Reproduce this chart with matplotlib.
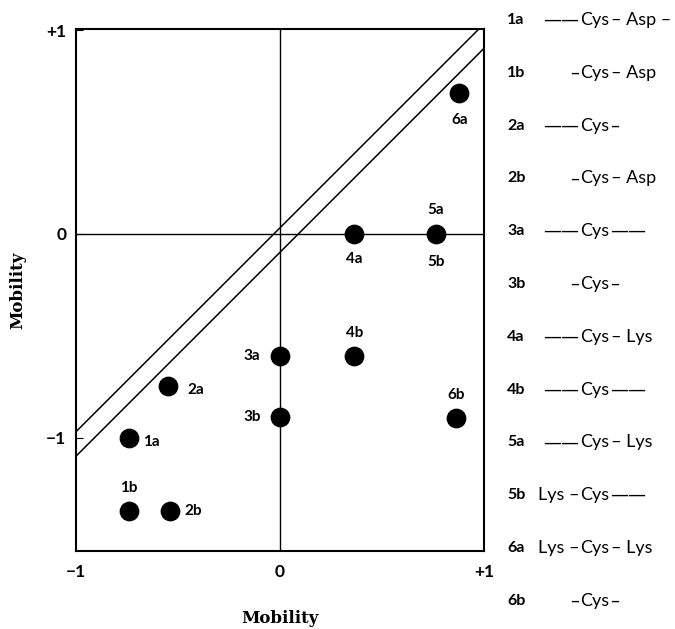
import matplotlib.pyplot as plt

# spots on the 2D map
spots = ['1a', '1b', '2a', '2b', '3a', '3b', '4a', '4b', '5a', '6a', '6b']
mob_x = [-0.74, -0.74, -0.55, -0.54, 0.0, 0.0, 0.365, 0.365, 0.765, 0.88, 0.865]
mob_y = [-1.0, -1.36, -0.745, -1.36, -0.60, -0.90, 0.0, -0.60, 0.0, 0.69, -0.905]

# where each label sits relative to its spot (offset points)
lab_off = {'1a': (16, -3), '1b': (0, 17), '2a': (20, -3), '2b': (17, 0),
           '3a': (-20, 0), '3b': (-20, 0), '4a': (0, -18), '4b': (0, 17),
           '5a': (0, 17), '6a': (0, -19), '6b': (0, 17)}
extra_labels = [('5b', 0.765, 0.0, (0, -20))]

# diagonal band: y = x + c
band = [0.03, -0.09]

# peptide sequences on the right
seq_names = ['1a', '1b', '2a', '2b', '3a', '3b', '4a', '4b', '5a', '5b', '6a', '6b']
seq_pre = ['——', '–', '——', '–', '——', '–', '——', '——', '——', 'Lys –', 'Lys –', '–']
seq_post = ['– Asp –', '– Asp', '–', '– Asp', '——', '–', '– Lys', '——', '– Lys', '——', '– Lys', '–']

lab_font = ['Lato', 'DejaVu Sans']


def fam(s):
    # long dashes join up in DejaVu, letters look better in Lato
    return ['DejaVu Sans'] if set(s) <= {'—', '–', ' '} else lab_font


fig = plt.figure(figsize=(6.75, 6.29), dpi=100)
ax = fig.add_axes([0.1126, 0.124, 0.6044, 0.8299])
ax.set_xlim(-1, 1)
ax.set_ylim(-1.555, 1.005)

ax.axhline(0, color='black', lw=1)
ax.axvline(0, color='black', lw=1)
for c in band:
    ax.plot([-1.2, 1.2], [-1.2 + c, 1.2 + c], color='black', lw=1.1)

ax.scatter(mob_x, mob_y, s=175, color='black', zorder=3)
for name, x, y in zip(spots, mob_x, mob_y):
    ax.annotate(name, (x, y), xytext=lab_off[name], textcoords='offset points',
                ha='center', va='center', fontsize=11, fontweight='bold', family=lab_font)
for name, x, y, off in extra_labels:
    ax.annotate(name, (x, y), xytext=off, textcoords='offset points',
                ha='center', va='center', fontsize=11, fontweight='bold', family=lab_font)

for s in ax.spines.values():
    s.set_linewidth(1.5)
ax.set_xticks([-1, 0, 1])
ax.set_xticklabels(['−1', '0', '+1'])
ax.set_yticks([-1, 0, 1])
ax.set_yticklabels(['−1', '0', '+1'])
ax.tick_params(axis='x', length=0, pad=9)
ax.tick_params(axis='y', direction='in', length=5, pad=7)
for t in ax.get_xticklabels() + ax.get_yticklabels():
    t.set_fontsize(12.5)
    t.set_fontweight('bold')
    t.set_family(lab_font)

ax.set_xlabel('Mobility', fontsize=12, fontweight='bold', family='DejaVu Serif', labelpad=22)
ax.set_ylabel('Mobility', fontsize=12, fontweight='bold', family='DejaVu Serif', labelpad=14)

y0 = 1 - 20 / 629
dy = 52.8 / 629
for i, name in enumerate(seq_names):
    yy = y0 - i * dy
    fig.text(507 / 675, yy, name, fontsize=11.5, fontweight='bold', family=lab_font, va='center')
    cys = fig.text(580 / 675, yy, 'Cys', fontsize=13, family=lab_font, va='center')
    fig.text(579 / 675, yy, seq_pre[i], fontsize=13, family=fam(seq_pre[i]), va='center', ha='right')
    ax.annotate(seq_post[i], xy=(1, 0.5), xycoords=cys, xytext=(1, 0),
                textcoords='offset points', fontsize=13, family=fam(seq_post[i]), va='center')

fig.savefig('out.png', dpi=100)
